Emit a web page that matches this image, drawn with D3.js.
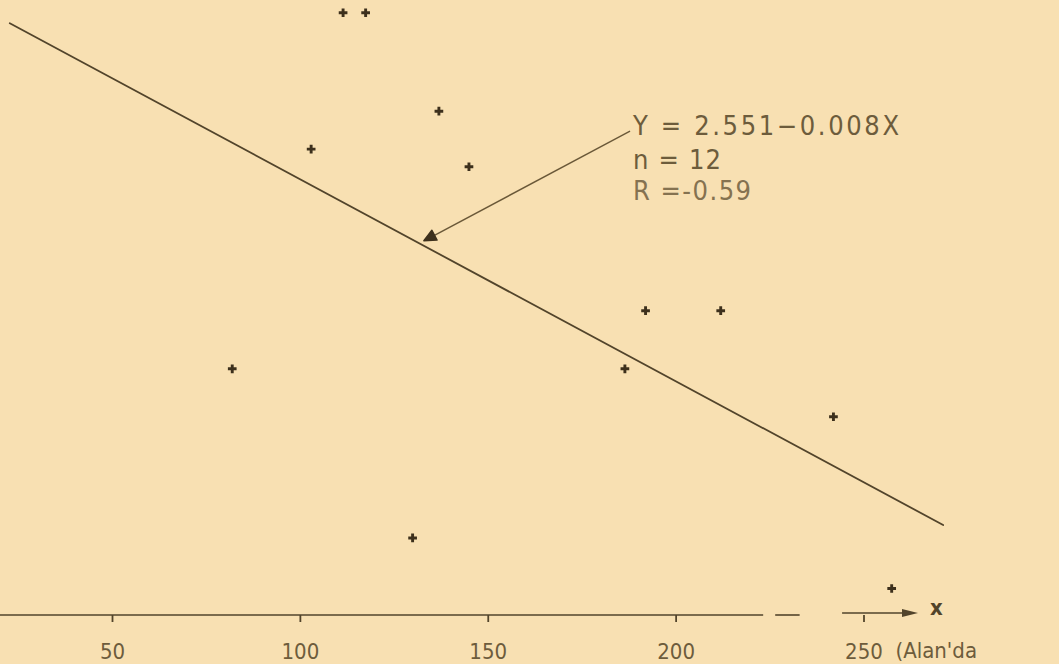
<!DOCTYPE html>
<html>
<head>
<meta charset="utf-8">
<script src="https://cdn.jsdelivr.net/npm/d3@7"></script>
<style>
  body { margin: 0; background: #f8e0b2; }
  svg { display: block; }
  text { font-family: "DejaVu Sans Condensed", "DejaVu Sans", sans-serif; font-stretch: condensed; }
</style>
</head>
<body>
<svg id="chart" width="1059" height="664"></svg>
<script>
// values
const xValues = [111.5, 117.5, 137, 103, 145, 192, 212, 82, 186.5, 242, 130, 257.5];
const yValues = [2.41, 2.41, 2.02, 1.87, 1.80, 1.23, 1.23, 1.00, 1.00, 0.81, 0.33, 0.13];
const xTicks = [50, 100, 150, 200, 250];
const intercept = 2.551, slope = -0.008;
const nLabel = "n = 12";
const rLabel = "R =-0.59";
const eqLabel = "Y = 2.551\u22120.008X";
const xTitle = "(Alan'da";

const svg = d3.select("#chart"),
    width = +svg.attr("width"),
    height = +svg.attr("height");

const ink = "#52442b";
const textInk = "#6d5c3c";

const x = d3.scaleLinear().domain([50, 250]).range([112, 863.5]);
const y = d3.scaleLinear().domain([0, 2.5]).range([621.3, -10]);
const axisY = 615;

svg.append("rect")
    .attr("width", width).attr("height", height)
    .attr("fill", "#f8e0b2");

// x axis, drawn broken like the original
const axis = d3.axisBottom(x)
    .tickValues(xTicks)
    .tickSize(7)
    .tickPadding(21);

const gx = svg.append("g")
    .attr("transform", `translate(0,${axisY})`)
    .call(axis);
gx.select(".domain").remove();
gx.selectAll(".tick line").attr("stroke", ink).attr("stroke-width", 1.8);
gx.selectAll(".tick text")
    .attr("fill", textInk)
    .style("font-size", "22px");

const pieces = [[20, 223.3], [226.5, 233], [244.3, 262]];
svg.selectAll("line.axis-piece")
    .data(pieces)
    .enter()
    .append("line")
    .attr("class", "axis-piece")
    .attr("x1", d => x(d[0]))
    .attr("x2", d => x(d[1]))
    .attr("y1", (d, i) => i === 2 ? axisY - 2 : axisY)
    .attr("y2", (d, i) => i === 2 ? axisY - 2 : axisY)
    .attr("stroke", ink)
    .attr("stroke-width", 1.6);

// arrow head of the axis
const tipX = x(264.5);
svg.append("path")
    .attr("d", `M${tipX},${axisY - 2} L${tipX - 16},${axisY - 6} L${tipX - 16},${axisY + 2} Z`)
    .attr("fill", ink);

svg.append("text")
    .attr("x", tipX + 12).attr("y", axisY)
    .attr("fill", ink)
    .style("font-size", "22px")
    .style("font-weight", "bold")
    .text("x");

svg.append("text")
    .attr("x", x(258.5)).attr("y", 658)
    .attr("fill", textInk)
    .style("font-size", "22px")
    .text(xTitle);

// regression line
const lineX = [22.8, 271.2];
svg.append("line")
    .attr("x1", x(lineX[0])).attr("y1", y(intercept + slope * lineX[0]))
    .attr("x2", x(lineX[1])).attr("y2", y(intercept + slope * lineX[1]))
    .attr("stroke", ink)
    .attr("stroke-width", 1.8)
    .attr("stroke-linecap", "round");

// points as small plus marks
const pts = d3.zip(xValues, yValues);
const sym = d3.symbol().type(d3.symbolCross).size(42);
svg.selectAll("path.pt")
    .data(pts)
    .enter()
    .append("path")
    .attr("class", "pt")
    .attr("transform", d => `translate(${x(d[0])},${y(d[1])})`)
    .attr("d", sym)
    .attr("fill", "#3d301c");

// annotation with leader arrow
const annX = 188.4, annY = 1.925;
const arrowX = 133;
const ax = x(arrowX), ay = y(intercept + slope * arrowX) - 5;
const sx = x(annX) - 2, sy = y(annY) - 4;
svg.append("line")
    .attr("x1", sx).attr("y1", sy)
    .attr("x2", ax + 4).attr("y2", ay - 2)
    .attr("stroke", "#6a5838")
    .attr("stroke-width", 1.4);

const ang = Math.atan2(ay - sy, ax - sx);
const hl = 12, hw = 5.5;
const bx = ax - hl * Math.cos(ang), by = ay - hl * Math.sin(ang);
svg.append("path")
    .attr("d", `M${ax},${ay} L${bx - hw * Math.sin(ang)},${by + hw * Math.cos(ang)} L${bx + hw * Math.sin(ang)},${by - hw * Math.cos(ang)} Z`)
    .attr("fill", "#3d301c")
    .attr("stroke", "#3d301c")
    .attr("stroke-width", 1.5)
    .attr("stroke-linejoin", "round");

const ann = svg.append("g")
    .attr("transform", `translate(${x(annX) + 1},${y(annY)})`)
    .attr("fill", textInk)
    .style("font-size", "27px");
ann.append("text").attr("y", 0).attr("textLength", 266).attr("lengthAdjust", "spacing").text(eqLabel);
ann.append("text").attr("y", 34).attr("textLength", 88).attr("lengthAdjust", "spacing").text(nLabel);
ann.append("text").attr("y", 65).attr("textLength", 118).attr("lengthAdjust", "spacing").attr("fill", "#857250").text(rLabel);
</script>
</body>
</html>
